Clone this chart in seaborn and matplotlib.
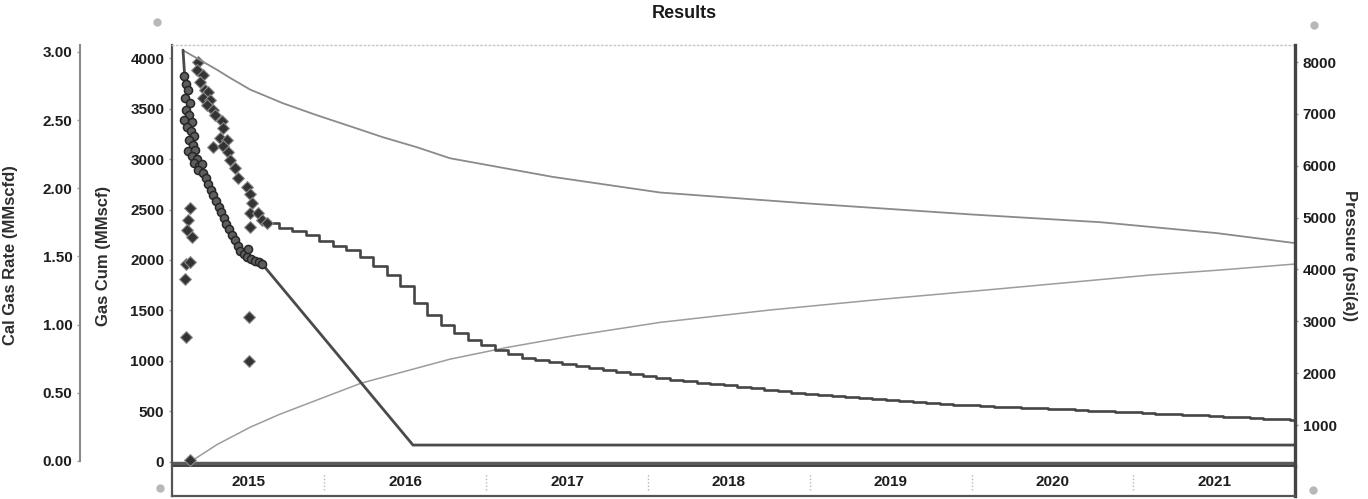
import numpy as np
import pandas as pd
import matplotlib
matplotlib.use("Agg")
import matplotlib.pyplot as plt
import seaborn as sns

sns.set_theme(style="white")
plt.rcParams["font.family"] = ["Liberation Sans", "DejaVu Sans"]

# ---------------------------------------------------------------- data
# time axis in decimal years
years = [2015, 2016, 2017, 2018, 2019, 2020, 2021]
x_start, x_end = 2015.059, 2021.998

# measured flowing pressure (psia)
pw_t = [2015.133, 2015.146, 2015.158, 2015.139, 2015.170, 2015.146, 2015.164,
        2015.133, 2015.183, 2015.152, 2015.176, 2015.195, 2015.164, 2015.189,
        2015.158, 2015.201, 2015.183, 2015.213, 2015.195, 2015.226, 2015.244,
        2015.220, 2015.251, 2015.269, 2015.281, 2015.300, 2015.312, 2015.331,
        2015.349, 2015.362, 2015.380, 2015.393, 2015.411, 2015.430, 2015.448,
        2015.467, 2015.479, 2015.504, 2015.529, 2015.522, 2015.547, 2015.572,
        2015.597, 2015.615]
pw_psi = [7724, 7570, 7455, 7301, 7204, 7069, 6973, 6877, 6838, 6742, 6665,
          6568, 6491, 6395, 6279, 6299, 6183, 6125, 6048, 5990, 6029, 5913,
          5855, 5759, 5644, 5528, 5432, 5316, 5200, 5104, 4988, 4873, 4776,
          4661, 4564, 4449, 4353, 4295, 4391, 4237, 4198, 4160, 4141, 4102]

# measured gas rate (MMscfd)
qg_t = [2015.220, 2015.213, 2015.251, 2015.232, 2015.263, 2015.281, 2015.251,
        2015.294, 2015.275, 2015.312, 2015.325, 2015.368, 2015.374, 2015.356,
        2015.399, 2015.312, 2015.374, 2015.405, 2015.417, 2015.448, 2015.467,
        2015.522, 2015.541, 2015.553, 2015.541, 2015.590, 2015.615, 2015.646,
        2015.541, 2015.170, 2015.158, 2015.152, 2015.183, 2015.146, 2015.170,
        2015.139, 2015.146, 2015.535, 2015.535, 2015.170]
qg_rate = [2.924, 2.865, 2.829, 2.778, 2.719, 2.704, 2.661, 2.646, 2.609,
           2.573, 2.536, 2.492, 2.441, 2.368, 2.353, 2.302, 2.309, 2.266,
           2.207, 2.149, 2.075, 2.010, 1.959, 1.892, 1.819, 1.819, 1.768,
           1.746, 1.716, 1.856, 1.768, 1.694, 1.643, 1.446, 1.461, 1.336,
           0.912, 1.058, 0.736, 0.005]

# calculated gas rate, monthly steps starting 2015-08-20 (MMscfd)
cal_rate_start = 2015.636
cal_rate = [1.744, 1.707, 1.690, 1.658, 1.614,
            1.578, 1.544, 1.495, 1.432, 1.366, 1.285, 1.159, 1.073, 1.000, 0.939, 0.890, 0.854,
            0.812, 0.781, 0.756, 0.742, 0.728, 0.712, 0.696, 0.681, 0.667, 0.653, 0.640, 0.620,
            0.608, 0.597, 0.586, 0.575, 0.564, 0.554, 0.543, 0.532, 0.521, 0.510, 0.499, 0.488,
            0.481, 0.474, 0.467, 0.461, 0.454, 0.447, 0.440, 0.434, 0.427, 0.420, 0.414, 0.407,
            0.403, 0.399, 0.395, 0.391, 0.386, 0.382, 0.378, 0.374, 0.370, 0.366, 0.362, 0.358,
            0.353, 0.348, 0.343, 0.339, 0.334, 0.329, 0.324, 0.319, 0.315, 0.310, 0.305, 0.302]

# calculated flowing pressure (psia)
pwf_t = [2015.127, 2015.140, 2015.165, 2015.200, 2015.250, 2015.300, 2015.400,
         2015.500, 2015.615, 2016.548, 2021.998]
pwf_psi = [8230, 7600, 6900, 6300, 5860, 5530, 4850, 4330, 4110, 614, 614]

# average reservoir pressure (psia)
pr_t = [2015.127, 2015.220, 2015.337, 2015.420, 2015.541, 2015.745, 2015.955,
        2016.159, 2016.362, 2016.573, 2016.777, 2017.413, 2018.074, 2019.000,
        2020.000, 2020.800, 2021.516, 2021.998]
pr_psi = [8225, 8060, 7850, 7690, 7470, 7204, 6973, 6762, 6550, 6356, 6144,
          5784, 5484, 5270, 5060, 4910, 4700, 4508]

# cumulative gas (MMscf)
gp_t = [2015.171, 2015.260, 2015.337, 2015.542, 2015.726, 2016.227, 2016.777,
        2017.129, 2017.537, 2018.074, 2018.755, 2019.458, 2020.175, 2021.102,
        2021.530, 2021.998]
gp_cum = [0, 92, 172, 344, 473, 780, 1018, 1134, 1249, 1382, 1505, 1613,
          1715, 1851, 1900, 1960]

# ---------------------------------------------------------------- figure
W, H = 1368, 499
fig = plt.figure(figsize=(W / 100, H / 100), dpi=100)

L, R, T, B = 172, 1295, 45, 466
ax = fig.add_axes([L / W, 1 - B / H, (R - L) / W, (B - T) / H])
ax_rate = ax.twinx()
ax_p = ax.twinx()

light = "#9c9c9c"

# cumulative gas on the inner left axis
sns.lineplot(x=gp_t, y=gp_cum, ax=ax, color=light, lw=1.1, estimator=None, sort=False)
ax.set_ylim(-40, 4129)
ax.axhline(-18, color="#5a5a5a", lw=3.2, solid_capstyle="butt")

# gas rates on the outer left axis
cal_t = cal_rate_start + np.arange(len(cal_rate)) / 12.0
cal_t = np.append(cal_t, x_end)
cal_q = np.append(cal_rate, cal_rate[-1])
ax_rate.plot(cal_t, cal_q, drawstyle="steps-post", color="#454545", lw=1.9)
sns.scatterplot(x=qg_t, y=qg_rate, ax=ax_rate, marker="D", s=36,
                color="#333333", edgecolor="#8a8a8a", linewidth=0.8, zorder=5)
ax_rate.set_ylim(-0.037, 3.051)

# pressures on the right axis
sns.lineplot(x=pr_t, y=pr_psi, ax=ax_p, color="#8a8a8a", lw=1.3, estimator=None, sort=False)
sns.lineplot(x=pwf_t, y=pwf_psi, ax=ax_p, color="#4a4a4a", lw=2.0, estimator=None, sort=False)
sns.scatterplot(x=pw_t, y=pw_psi, ax=ax_p, marker="o", s=34,
                color="#5e5e5e", edgecolor="#262626", linewidth=1.1, zorder=5)
ax_p.set_ylim(210, 8328)

for a in (ax, ax_rate, ax_p):
    a.set_xlim(x_start, x_end)
    a.set_xticks([])
    a.set_xlabel("")
    a.grid(False)

tick_kw = dict(labelsize=11, colors="#9a9a9a", labelcolor="#1e1e1e", length=2.5, width=1.0, pad=3)
lab_kw = dict(fontsize=12, fontweight="bold", color="#2e2e2e")

# inner left axis: gas cum
ax.set_yticks(np.arange(0, 4001, 500))
ax.set_yticklabels([f"{v:d}" for v in range(0, 4001, 500)], fontweight="bold")
ax.tick_params(axis="y", which="both", left=True, right=False, **tick_kw)
ax.set_ylabel("Gas Cum (MMscf)", **lab_kw)
ax.yaxis.set_label_coords((111 - L) / (R - L), 0.5)

# outer left axis: gas rate
ax_rate.yaxis.tick_left()
ax_rate.yaxis.set_label_position("left")
ax_rate.spines["left"].set_position(("axes", (80 - L) / (R - L)))
ax_rate.spines["left"].set_visible(True)
ax_rate.spines["left"].set_bounds(0, 3.051)
ax_rate.spines["left"].set_color("#8a8a8a")
ax_rate.spines["left"].set_linewidth(1.5)
ax_rate.set_yticks(np.arange(0, 3.01, 0.5))
ax_rate.set_yticklabels([f"{v:.2f}" for v in np.arange(0, 3.01, 0.5)], fontweight="bold")
ax_rate.tick_params(axis="y", which="both", left=True, right=False, **tick_kw)
ax_rate.set_ylabel("Cal Gas Rate (MMscfd)", **lab_kw)
ax_rate.yaxis.set_label_coords((18 - L) / (R - L), 0.5)
for s in ("right", "top", "bottom"):
    ax_rate.spines[s].set_visible(False)

# right axis: pressure
ax_p.set_yticks(np.arange(1000, 8001, 1000))
ax_p.set_yticklabels([f"{v:d}" for v in range(1000, 8001, 1000)], fontweight="bold")
ax_p.tick_params(axis="y", which="both", left=False, right=True, **tick_kw)
ax_p.set_ylabel("Pressure (psi(a))", rotation=270, **lab_kw)
ax_p.yaxis.set_label_coords((1357 - L) / (R - L), 0.5)
for s in ("left", "top", "bottom"):
    ax_p.spines[s].set_visible(False)
ax_p.spines["right"].set_color("#444444")
ax_p.spines["right"].set_linewidth(2.4)

# frame of the main panel
ax.spines["left"].set_color("#555555")
ax.spines["left"].set_linewidth(1.6)
ax.spines["right"].set_visible(False)
ax.spines["top"].set_color("#c8c8c8")
ax.spines["top"].set_linestyle((0, (1, 2)))
ax.spines["top"].set_linewidth(1.0)
ax.spines["bottom"].set_color("#444444")
ax.spines["bottom"].set_linewidth(1.4)

# date band under the panel
axd = fig.add_axes([L / W, 1 - 496 / H, (R - L) / W, 30 / H])
axd.set_xlim(x_start, x_end)
axd.set_ylim(0, 1)
axd.set_xticks([])
axd.set_yticks([])
centers = [(max(y, x_start) + min(y + 1, x_end)) / 2 for y in years]
for c, y in zip(centers, years):
    axd.text(c, 0.48, str(y), ha="center", va="center", fontsize=11,
             fontweight="bold", color="#1e1e1e")
axd.vlines(years[1:], 0.2, 0.75, colors="#b5b5b5", linestyles=(0, (1, 1.5)), lw=1)
axd.spines["top"].set_visible(False)
axd.spines["left"].set_color("#555555")
axd.spines["left"].set_linewidth(1.6)
axd.spines["right"].set_color("#444444")
axd.spines["right"].set_linewidth(2.4)
axd.spines["bottom"].set_color("#555555")
axd.spines["bottom"].set_linewidth(1.6)
axd.patch.set_alpha(0)

fig.text(0.5, 1 - 13 / H, "Results", ha="center", va="center",
         fontsize=13, fontweight="bold", color="#1a1a1a")

# small corner markers around the panel
for px, py in [(157, 22), (1314, 25), (160, 488), (1313, 490)]:
    fig.add_artist(plt.Line2D([px / W], [1 - py / H], marker="o", markersize=5,
                              color="#b8b8b8", transform=fig.transFigure))

fig.savefig("out.png", dpi=100)
